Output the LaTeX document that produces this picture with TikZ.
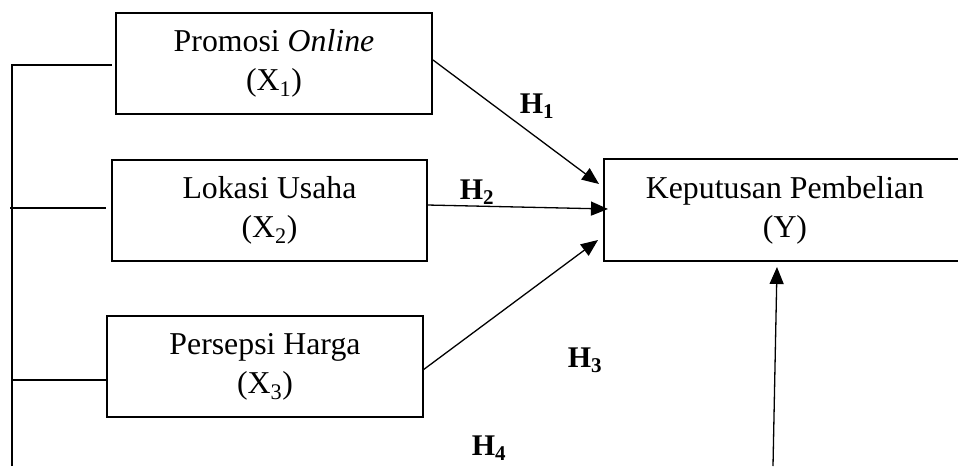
\documentclass[tikz,border=0pt]{standalone}
\usepackage{fontspec}
\setmainfont{Liberation Serif}
\usetikzlibrary{arrows.meta}
\begin{document}
\begin{tikzpicture}[x=1pt,y=-1pt,
  box/.style={draw,line width=1.4pt,inner sep=0pt,align=center,
    font=\fontsize{31.8}{39}\selectfont},
  conn/.style={line width=1.3pt},
  arr/.style={line width=1.3pt,-{Triangle[length=17pt,width=14pt]}},
  hlab/.style={font=\fontsize{30}{36}\selectfont\bfseries,inner sep=0pt}]
\useasboundingbox (0,0) rectangle (958,466);
\clip (0,0) rectangle (958,466);
\node[box,minimum width=316pt,minimum height=101pt] (b1) at (274,63.5) {Promosi \textit{Online}\\(X\textsubscript{1})};
\node[box,minimum width=315pt,minimum height=101pt] (b2) at (269.5,210.5) {Lokasi Usaha\\(X\textsubscript{2})};
\node[box,minimum width=316pt,minimum height=101pt] (b3) at (265,366.5) {Persepsi Harga\\(X\textsubscript{3})};
\node[box,minimum width=362pt,minimum height=102pt] (by) at (785,210) {Keputusan Pembelian\\(Y)};
% left bracket line
\coordinate (ltop) at (12,65);
\coordinate (lbot) at (12,466);
\coordinate (l1) at (112,65);
\coordinate (m2a) at (10,208);
\coordinate (m2b) at (106,208);
\coordinate (m3a) at (12,380);
\draw[conn] (lbot) -- (ltop) -- (l1);
\draw[conn] (m2a) -- (m2b);
\draw[conn] (m3a) -- (m3a -| b3.west);
% arrows
\coordinate (s1) at (433,60);
\coordinate (t1) at (599,184);
\coordinate (s2) at (427,205);
\coordinate (t2) at (608,209);
\coordinate (s3) at (423,370);
\coordinate (t3) at (598,240);
\coordinate (s4) at (773,466);
\coordinate (t4) at (777,267);
\draw[arr] (s1) -- (t1);
\draw[arr] (s2) -- (t2);
\draw[arr] (s3) -- (t3);
\draw[arr] (s4) -- (t4);
% labels
\node[hlab] (h1) at (537,106) {H\textsubscript{1}};
\node[hlab] (h2) at (477,192) {H\textsubscript{2}};
\node[hlab] (h3) at (585,360) {H\textsubscript{3}};
\node[hlab] (h4) at (489,448) {H\textsubscript{4}};
\end{tikzpicture}
\end{document}
